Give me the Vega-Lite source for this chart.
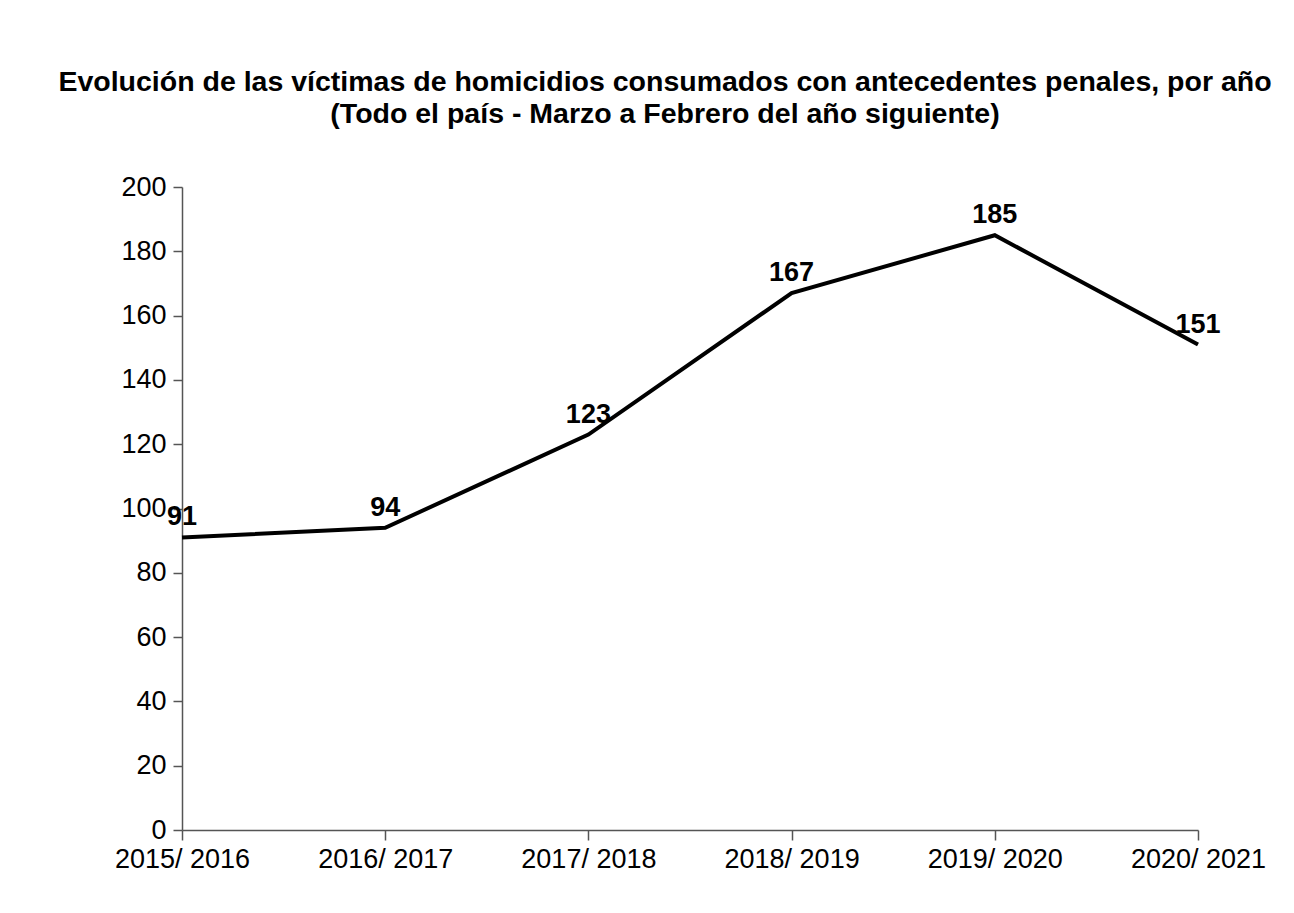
{
  "$schema": "https://vega.github.io/schema/vega-lite/v6.json",
  "autosize": {"type": "none"},
  "padding": {"left": 182, "top": 187, "right": 96, "bottom": 83},
  "width": 1016,
  "height": 643,
  "background": "white",
  "config": {
    "font": "Liberation Sans",
    "view": {"stroke": null}
  },
  "title": {
    "text": ["Evolución de las víctimas de homicidios consumados con antecedentes penales, por año", "(Todo el país - Marzo a Febrero del año siguiente)"],
    "font": "Liberation Sans",
    "fontSize": 28.5,
    "fontWeight": "bold",
    "color": "black",
    "anchor": "middle",
    "lineHeight": 32,
    "offset": 45,
    "dx": -25
  },
  "data": {
    "values": [
      {"periodo": "2015/ 2016", "victimas": 91},
      {"periodo": "2016/ 2017", "victimas": 94},
      {"periodo": "2017/ 2018", "victimas": 123},
      {"periodo": "2018/ 2019", "victimas": 167},
      {"periodo": "2019/ 2020", "victimas": 185},
      {"periodo": "2020/ 2021", "victimas": 151}
    ]
  },
  "encoding": {
    "x": {
      "field": "periodo",
      "type": "ordinal",
      "sort": null,
      "scale": {"type": "point", "padding": 0},
      "axis": {
        "title": null,
        "labelAngle": 0,
        "labelFont": "Liberation Sans",
        "labelFontSize": 27,
        "labelColor": "black",
        "domainColor": "#555555",
        "domainWidth": 1.5,
        "tickColor": "#555555",
        "tickWidth": 1.5,
        "tickSize": 10,
        "labelPadding": 6,
        "grid": false
      }
    },
    "y": {
      "field": "victimas",
      "type": "quantitative",
      "scale": {"domain": [0, 200], "nice": false},
      "axis": {
        "title": null,
        "values": [0, 20, 40, 60, 80, 100, 120, 140, 160, 180, 200],
        "labelFont": "Liberation Sans",
        "labelFontSize": 27,
        "labelColor": "black",
        "domainColor": "#555555",
        "domainWidth": 1.5,
        "tickColor": "#555555",
        "tickWidth": 1.5,
        "tickSize": 9,
        "labelPadding": 7,
        "grid": false
      }
    }
  },
  "layer": [
    {
      "mark": {"type": "line", "color": "black", "strokeWidth": 4, "clip": false}
    },
    {
      "mark": {"type": "text", "font": "Liberation Sans", "fontSize": 27, "fontWeight": "bold", "color": "black", "align": "center", "baseline": "alphabetic", "dy": -12},
      "encoding": {
        "text": {"field": "victimas", "type": "quantitative"}
      }
    }
  ]
}
